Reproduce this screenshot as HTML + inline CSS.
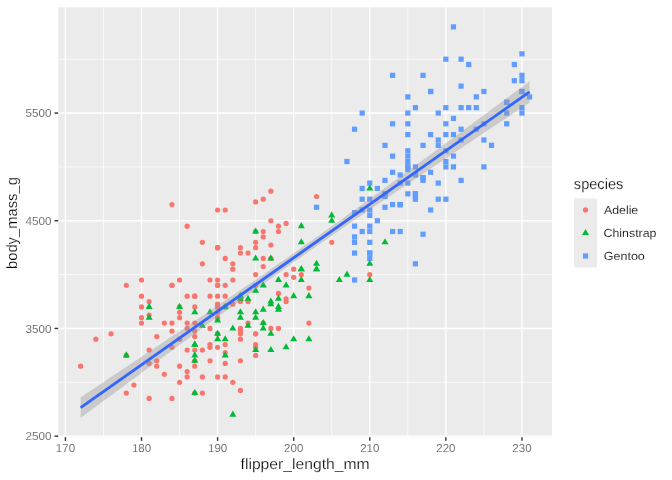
<!DOCTYPE html>
<html><head><meta charset="utf-8"><title>plot</title>
<style>html,body{margin:0;padding:0;background:#fff}svg{display:block}text{text-rendering:geometricPrecision;stroke:#fff;stroke-width:0.22px;font-family:"Liberation Sans","DejaVu Sans",sans-serif}.s{stroke-width:0.14px}</style>
</head><body>
<svg width="672" height="480" viewBox="0 0 672 480">
<rect width="672" height="480" fill="#fff"/>
<rect x="58.2" y="7.33" width="493.8" height="429.87" fill="#EBEBEB"/>
<g stroke="#fff" stroke-width="0.71" fill="none">
<path d="M103.47 7.33V437.2"/>
<path d="M179.56 7.33V437.2"/>
<path d="M255.64 7.33V437.2"/>
<path d="M331.73 7.33V437.2"/>
<path d="M407.82 7.33V437.2"/>
<path d="M483.9 7.33V437.2"/>
<path d="M58.2 382.31H552"/>
<path d="M58.2 274.6H552"/>
<path d="M58.2 166.9H552"/>
<path d="M58.2 59.19H552"/>
</g>
<g stroke="#fff" stroke-width="1.42" fill="none">
<path d="M65.43 7.33V437.2"/>
<path d="M141.51 7.33V437.2"/>
<path d="M217.6 7.33V437.2"/>
<path d="M293.69 7.33V437.2"/>
<path d="M369.77 7.33V437.2"/>
<path d="M445.86 7.33V437.2"/>
<path d="M521.95 7.33V437.2"/>
<path d="M58.2 436.16H552"/>
<path d="M58.2 328.45H552"/>
<path d="M58.2 220.75H552"/>
<path d="M58.2 113.05H552"/>
</g>
<g fill="#F8766D">
<circle cx="149.12" cy="301.53" r="2.6"/>
<circle cx="187.17" cy="296.14" r="2.6"/>
<circle cx="255.64" cy="355.38" r="2.6"/>
<circle cx="240.43" cy="333.84" r="2.6"/>
<circle cx="217.6" cy="312.3" r="2.6"/>
<circle cx="149.12" cy="314.99" r="2.6"/>
<circle cx="255.64" cy="201.9" r="2.6"/>
<circle cx="240.43" cy="331.15" r="2.6"/>
<circle cx="217.6" cy="247.68" r="2.6"/>
<circle cx="187.17" cy="349.99" r="2.6"/>
<circle cx="141.51" cy="306.91" r="2.6"/>
<circle cx="156.73" cy="360.77" r="2.6"/>
<circle cx="225.21" cy="296.14" r="2.6"/>
<circle cx="278.47" cy="231.52" r="2.6"/>
<circle cx="179.56" cy="306.91" r="2.6"/>
<circle cx="255.64" cy="333.84" r="2.6"/>
<circle cx="270.86" cy="220.75" r="2.6"/>
<circle cx="171.95" cy="347.3" r="2.6"/>
<circle cx="248.04" cy="253.06" r="2.6"/>
<circle cx="95.86" cy="339.22" r="2.6"/>
<circle cx="141.51" cy="317.68" r="2.6"/>
<circle cx="209.99" cy="296.14" r="2.6"/>
<circle cx="179.56" cy="279.99" r="2.6"/>
<circle cx="141.51" cy="296.14" r="2.6"/>
<circle cx="194.77" cy="296.14" r="2.6"/>
<circle cx="164.34" cy="323.07" r="2.6"/>
<circle cx="194.77" cy="360.77" r="2.6"/>
<circle cx="80.65" cy="366.15" r="2.6"/>
<circle cx="141.51" cy="279.99" r="2.6"/>
<circle cx="126.3" cy="355.38" r="2.6"/>
<circle cx="126.3" cy="285.37" r="2.6"/>
<circle cx="202.38" cy="349.99" r="2.6"/>
<circle cx="171.95" cy="285.37" r="2.6"/>
<circle cx="255.64" cy="347.3" r="2.6"/>
<circle cx="263.25" cy="258.45" r="2.6"/>
<circle cx="217.6" cy="279.99" r="2.6"/>
<circle cx="141.51" cy="323.07" r="2.6"/>
<circle cx="149.12" cy="349.99" r="2.6"/>
<circle cx="171.95" cy="204.59" r="2.6"/>
<circle cx="156.73" cy="366.15" r="2.6"/>
<circle cx="255.64" cy="285.37" r="2.6"/>
<circle cx="187.17" cy="371.54" r="2.6"/>
<circle cx="263.25" cy="231.52" r="2.6"/>
<circle cx="179.56" cy="382.31" r="2.6"/>
<circle cx="217.6" cy="209.98" r="2.6"/>
<circle cx="156.73" cy="336.53" r="2.6"/>
<circle cx="133.91" cy="385" r="2.6"/>
<circle cx="217.6" cy="333.84" r="2.6"/>
<circle cx="225.21" cy="258.45" r="2.6"/>
<circle cx="187.17" cy="328.45" r="2.6"/>
<circle cx="202.38" cy="242.29" r="2.6"/>
<circle cx="217.6" cy="333.84" r="2.6"/>
<circle cx="293.69" cy="269.22" r="2.6"/>
<circle cx="194.77" cy="393.08" r="2.6"/>
<circle cx="225.21" cy="306.91" r="2.6"/>
<circle cx="187.17" cy="323.07" r="2.6"/>
<circle cx="240.43" cy="296.14" r="2.6"/>
<circle cx="149.12" cy="398.46" r="2.6"/>
<circle cx="248.04" cy="301.53" r="2.6"/>
<circle cx="179.56" cy="366.15" r="2.6"/>
<circle cx="255.64" cy="231.52" r="2.6"/>
<circle cx="179.56" cy="317.68" r="2.6"/>
<circle cx="232.82" cy="269.22" r="2.6"/>
<circle cx="171.95" cy="398.46" r="2.6"/>
<circle cx="232.82" cy="279.99" r="2.6"/>
<circle cx="255.64" cy="344.61" r="2.6"/>
<circle cx="202.38" cy="263.83" r="2.6"/>
<circle cx="217.6" cy="376.92" r="2.6"/>
<circle cx="278.47" cy="226.14" r="2.6"/>
<circle cx="217.6" cy="317.68" r="2.6"/>
<circle cx="217.6" cy="285.37" r="2.6"/>
<circle cx="263.25" cy="323.07" r="2.6"/>
<circle cx="270.86" cy="258.45" r="2.6"/>
<circle cx="217.6" cy="306.91" r="2.6"/>
<circle cx="255.64" cy="247.68" r="2.6"/>
<circle cx="225.21" cy="306.91" r="2.6"/>
<circle cx="171.95" cy="285.37" r="2.6"/>
<circle cx="194.77" cy="323.07" r="2.6"/>
<circle cx="255.64" cy="274.6" r="2.6"/>
<circle cx="209.99" cy="360.77" r="2.6"/>
<circle cx="263.25" cy="199.21" r="2.6"/>
<circle cx="194.77" cy="296.14" r="2.6"/>
<circle cx="240.43" cy="253.06" r="2.6"/>
<circle cx="225.21" cy="344.61" r="2.6"/>
<circle cx="248.04" cy="323.07" r="2.6"/>
<circle cx="217.6" cy="296.14" r="2.6"/>
<circle cx="209.99" cy="328.45" r="2.6"/>
<circle cx="209.99" cy="279.99" r="2.6"/>
<circle cx="217.6" cy="317.68" r="2.6"/>
<circle cx="308.9" cy="323.07" r="2.6"/>
<circle cx="331.73" cy="242.29" r="2.6"/>
<circle cx="179.56" cy="339.22" r="2.6"/>
<circle cx="187.17" cy="226.14" r="2.6"/>
<circle cx="194.77" cy="349.99" r="2.6"/>
<circle cx="354.56" cy="242.29" r="2.6"/>
<circle cx="217.6" cy="306.91" r="2.6"/>
<circle cx="263.25" cy="236.91" r="2.6"/>
<circle cx="126.3" cy="393.08" r="2.6"/>
<circle cx="232.82" cy="263.83" r="2.6"/>
<circle cx="232.82" cy="304.22" r="2.6"/>
<circle cx="316.51" cy="196.52" r="2.6"/>
<circle cx="164.34" cy="374.23" r="2.6"/>
<circle cx="217.6" cy="247.68" r="2.6"/>
<circle cx="240.43" cy="390.38" r="2.6"/>
<circle cx="171.95" cy="323.07" r="2.6"/>
<circle cx="286.08" cy="301.53" r="2.6"/>
<circle cx="217.6" cy="285.37" r="2.6"/>
<circle cx="149.12" cy="363.46" r="2.6"/>
<circle cx="270.86" cy="191.13" r="2.6"/>
<circle cx="278.47" cy="293.45" r="2.6"/>
<circle cx="225.21" cy="209.98" r="2.6"/>
<circle cx="240.43" cy="360.77" r="2.6"/>
<circle cx="270.86" cy="244.98" r="2.6"/>
<circle cx="225.21" cy="285.37" r="2.6"/>
<circle cx="263.25" cy="266.52" r="2.6"/>
<circle cx="202.38" cy="393.08" r="2.6"/>
<circle cx="286.08" cy="298.84" r="2.6"/>
<circle cx="209.99" cy="344.61" r="2.6"/>
<circle cx="209.99" cy="347.3" r="2.6"/>
<circle cx="194.77" cy="366.15" r="2.6"/>
<circle cx="278.47" cy="328.45" r="2.6"/>
<circle cx="111.08" cy="333.84" r="2.6"/>
<circle cx="308.9" cy="288.06" r="2.6"/>
<circle cx="187.17" cy="376.92" r="2.6"/>
<circle cx="286.08" cy="274.6" r="2.6"/>
<circle cx="225.21" cy="352.69" r="2.6"/>
<circle cx="255.64" cy="242.29" r="2.6"/>
<circle cx="225.21" cy="376.92" r="2.6"/>
<circle cx="369.77" cy="274.6" r="2.6"/>
<circle cx="217.6" cy="347.3" r="2.6"/>
<circle cx="270.86" cy="328.45" r="2.6"/>
<circle cx="240.43" cy="328.45" r="2.6"/>
<circle cx="286.08" cy="223.44" r="2.6"/>
<circle cx="194.77" cy="336.53" r="2.6"/>
<circle cx="217.6" cy="285.37" r="2.6"/>
<circle cx="225.21" cy="363.46" r="2.6"/>
<circle cx="293.69" cy="277.29" r="2.6"/>
<circle cx="179.56" cy="339.22" r="2.6"/>
<circle cx="240.43" cy="247.68" r="2.6"/>
<circle cx="240.43" cy="339.22" r="2.6"/>
<circle cx="194.77" cy="331.15" r="2.6"/>
<circle cx="202.38" cy="376.92" r="2.6"/>
<circle cx="217.6" cy="304.22" r="2.6"/>
<circle cx="232.82" cy="382.31" r="2.6"/>
<circle cx="179.56" cy="312.3" r="2.6"/>
<circle cx="217.6" cy="247.68" r="2.6"/>
<circle cx="171.95" cy="331.15" r="2.6"/>
<circle cx="255.64" cy="333.84" r="2.6"/>
<circle cx="240.43" cy="301.53" r="2.6"/>
<circle cx="194.77" cy="306.91" r="2.6"/>
<circle cx="301.3" cy="274.6" r="2.6"/>
</g><g fill="#619CFF">
<rect x="374.78" y="218.15" width="5.21" height="5.21"/>
<rect x="519.34" y="88.9" width="5.21" height="5.21"/>
<rect x="367.17" y="223.53" width="5.21" height="5.21"/>
<rect x="428.04" y="88.9" width="5.21" height="5.21"/>
<rect x="405.21" y="121.21" width="5.21" height="5.21"/>
<rect x="367.17" y="212.76" width="5.21" height="5.21"/>
<rect x="374.78" y="185.83" width="5.21" height="5.21"/>
<rect x="435.65" y="142.75" width="5.21" height="5.21"/>
<rect x="359.56" y="228.92" width="5.21" height="5.21"/>
<rect x="405.21" y="148.14" width="5.21" height="5.21"/>
<rect x="397.6" y="201.99" width="5.21" height="5.21"/>
<rect x="412.82" y="105.06" width="5.21" height="5.21"/>
<rect x="397.6" y="201.99" width="5.21" height="5.21"/>
<rect x="389.99" y="72.74" width="5.21" height="5.21"/>
<rect x="367.17" y="250.46" width="5.21" height="5.21"/>
<rect x="420.43" y="72.74" width="5.21" height="5.21"/>
<rect x="367.17" y="255.84" width="5.21" height="5.21"/>
<rect x="450.86" y="24.28" width="5.21" height="5.21"/>
<rect x="359.56" y="185.83" width="5.21" height="5.21"/>
<rect x="458.47" y="126.6" width="5.21" height="5.21"/>
<rect x="428.04" y="88.9" width="5.21" height="5.21"/>
<rect x="405.21" y="164.29" width="5.21" height="5.21"/>
<rect x="389.99" y="228.92" width="5.21" height="5.21"/>
<rect x="405.21" y="158.91" width="5.21" height="5.21"/>
<rect x="405.21" y="164.29" width="5.21" height="5.21"/>
<rect x="405.21" y="153.52" width="5.21" height="5.21"/>
<rect x="412.82" y="261.23" width="5.21" height="5.21"/>
<rect x="405.21" y="94.29" width="5.21" height="5.21"/>
<rect x="367.17" y="207.37" width="5.21" height="5.21"/>
<rect x="443.25" y="105.06" width="5.21" height="5.21"/>
<rect x="458.47" y="137.37" width="5.21" height="5.21"/>
<rect x="359.56" y="196.6" width="5.21" height="5.21"/>
<rect x="344.34" y="158.91" width="5.21" height="5.21"/>
<rect x="519.34" y="51.2" width="5.21" height="5.21"/>
<rect x="443.25" y="148.14" width="5.21" height="5.21"/>
<rect x="443.25" y="121.21" width="5.21" height="5.21"/>
<rect x="389.99" y="169.68" width="5.21" height="5.21"/>
<rect x="435.65" y="137.37" width="5.21" height="5.21"/>
<rect x="351.95" y="234.3" width="5.21" height="5.21"/>
<rect x="351.95" y="126.6" width="5.21" height="5.21"/>
<rect x="351.95" y="277.38" width="5.21" height="5.21"/>
<rect x="481.3" y="88.9" width="5.21" height="5.21"/>
<rect x="367.17" y="239.69" width="5.21" height="5.21"/>
<rect x="412.82" y="191.22" width="5.21" height="5.21"/>
<rect x="458.47" y="105.06" width="5.21" height="5.21"/>
<rect x="420.43" y="175.06" width="5.21" height="5.21"/>
<rect x="367.17" y="250.46" width="5.21" height="5.21"/>
<rect x="481.3" y="121.21" width="5.21" height="5.21"/>
<rect x="389.99" y="153.52" width="5.21" height="5.21"/>
<rect x="405.21" y="131.98" width="5.21" height="5.21"/>
<rect x="367.17" y="180.45" width="5.21" height="5.21"/>
<rect x="443.25" y="131.98" width="5.21" height="5.21"/>
<rect x="367.17" y="228.92" width="5.21" height="5.21"/>
<rect x="481.3" y="164.29" width="5.21" height="5.21"/>
<rect x="420.43" y="175.06" width="5.21" height="5.21"/>
<rect x="443.25" y="158.91" width="5.21" height="5.21"/>
<rect x="351.95" y="239.69" width="5.21" height="5.21"/>
<rect x="443.25" y="164.29" width="5.21" height="5.21"/>
<rect x="351.95" y="223.53" width="5.21" height="5.21"/>
<rect x="473.69" y="105.06" width="5.21" height="5.21"/>
<rect x="351.95" y="250.46" width="5.21" height="5.21"/>
<rect x="450.86" y="131.98" width="5.21" height="5.21"/>
<rect x="397.6" y="228.92" width="5.21" height="5.21"/>
<rect x="526.95" y="94.29" width="5.21" height="5.21"/>
<rect x="435.65" y="196.6" width="5.21" height="5.21"/>
<rect x="519.34" y="88.9" width="5.21" height="5.21"/>
<rect x="397.6" y="201.99" width="5.21" height="5.21"/>
<rect x="511.73" y="78.13" width="5.21" height="5.21"/>
<rect x="443.25" y="196.6" width="5.21" height="5.21"/>
<rect x="466.08" y="105.06" width="5.21" height="5.21"/>
<rect x="412.82" y="191.22" width="5.21" height="5.21"/>
<rect x="450.86" y="164.29" width="5.21" height="5.21"/>
<rect x="450.86" y="153.52" width="5.21" height="5.21"/>
<rect x="420.43" y="142.75" width="5.21" height="5.21"/>
<rect x="412.82" y="196.6" width="5.21" height="5.21"/>
<rect x="519.34" y="78.13" width="5.21" height="5.21"/>
<rect x="359.56" y="207.37" width="5.21" height="5.21"/>
<rect x="443.25" y="56.59" width="5.21" height="5.21"/>
<rect x="405.21" y="191.22" width="5.21" height="5.21"/>
<rect x="466.08" y="61.97" width="5.21" height="5.21"/>
<rect x="382.39" y="204.68" width="5.21" height="5.21"/>
<rect x="450.86" y="115.83" width="5.21" height="5.21"/>
<rect x="382.39" y="193.91" width="5.21" height="5.21"/>
<rect x="473.69" y="126.6" width="5.21" height="5.21"/>
<rect x="382.39" y="191.22" width="5.21" height="5.21"/>
<rect x="504.12" y="99.67" width="5.21" height="5.21"/>
<rect x="428.04" y="207.37" width="5.21" height="5.21"/>
<rect x="428.04" y="131.98" width="5.21" height="5.21"/>
<rect x="382.39" y="177.76" width="5.21" height="5.21"/>
<rect x="519.34" y="105.06" width="5.21" height="5.21"/>
<rect x="428.04" y="169.68" width="5.21" height="5.21"/>
<rect x="504.12" y="121.21" width="5.21" height="5.21"/>
<rect x="382.39" y="191.22" width="5.21" height="5.21"/>
<rect x="473.69" y="94.29" width="5.21" height="5.21"/>
<rect x="397.6" y="180.45" width="5.21" height="5.21"/>
<rect x="488.91" y="142.75" width="5.21" height="5.21"/>
<rect x="412.82" y="172.37" width="5.21" height="5.21"/>
<rect x="458.47" y="177.76" width="5.21" height="5.21"/>
<rect x="313.91" y="204.68" width="5.21" height="5.21"/>
<rect x="481.3" y="137.37" width="5.21" height="5.21"/>
<rect x="435.65" y="180.45" width="5.21" height="5.21"/>
<rect x="504.12" y="99.67" width="5.21" height="5.21"/>
<rect x="405.21" y="166.99" width="5.21" height="5.21"/>
<rect x="504.12" y="110.44" width="5.21" height="5.21"/>
<rect x="412.82" y="193.91" width="5.21" height="5.21"/>
<rect x="405.21" y="110.44" width="5.21" height="5.21"/>
<rect x="367.17" y="196.6" width="5.21" height="5.21"/>
<rect x="435.65" y="110.44" width="5.21" height="5.21"/>
<rect x="351.95" y="210.07" width="5.21" height="5.21"/>
<rect x="359.56" y="110.44" width="5.21" height="5.21"/>
<rect x="412.82" y="164.29" width="5.21" height="5.21"/>
<rect x="511.73" y="61.97" width="5.21" height="5.21"/>
<rect x="389.99" y="201.99" width="5.21" height="5.21"/>
<rect x="519.34" y="110.44" width="5.21" height="5.21"/>
<rect x="420.43" y="231.61" width="5.21" height="5.21"/>
<rect x="519.34" y="72.74" width="5.21" height="5.21"/>
<rect x="420.43" y="177.76" width="5.21" height="5.21"/>
<rect x="458.47" y="56.59" width="5.21" height="5.21"/>
<rect x="397.6" y="172.37" width="5.21" height="5.21"/>
<rect x="405.21" y="180.45" width="5.21" height="5.21"/>
<rect x="458.47" y="83.52" width="5.21" height="5.21"/>
<rect x="382.39" y="142.75" width="5.21" height="5.21"/>
<rect x="389.99" y="121.21" width="5.21" height="5.21"/>
</g><g fill="#00BA38">
<path d="M232.82 324.4L236.33 330.48H229.31Z"/>
<path d="M263.25 281.32L266.76 287.4H259.74Z"/>
<path d="M240.43 308.25L243.94 314.32H236.92Z"/>
<path d="M202.38 321.71L205.89 327.79H198.88Z"/>
<path d="M270.86 300.17L274.37 306.25H267.35Z"/>
<path d="M278.47 275.94L281.98 282.01H274.96Z"/>
<path d="M126.3 351.33L129.81 357.41H122.79Z"/>
<path d="M270.86 297.48L274.37 303.55H267.35Z"/>
<path d="M255.64 254.4L259.15 260.47H252.14Z"/>
<path d="M278.47 302.86L281.98 308.94H274.96Z"/>
<path d="M240.43 292.09L243.94 298.17H236.92Z"/>
<path d="M248.04 294.78L251.54 300.86H244.53Z"/>
<path d="M179.56 302.86L183.07 308.94H176.05Z"/>
<path d="M301.3 265.17L304.8 271.24H297.79Z"/>
<path d="M217.6 316.33L221.11 322.4H214.09Z"/>
<path d="M301.3 265.17L304.8 271.24H297.79Z"/>
<path d="M270.86 345.94L274.37 352.02H267.35Z"/>
<path d="M149.12 302.86L152.63 308.94H145.61Z"/>
<path d="M217.6 329.79L221.11 335.86H214.09Z"/>
<path d="M255.64 227.47L259.15 233.55H252.14Z"/>
<path d="M149.12 313.63L152.63 319.71H145.61Z"/>
<path d="M225.21 335.17L228.72 341.25H221.7Z"/>
<path d="M194.77 389.03L198.28 395.1H191.27Z"/>
<path d="M240.43 292.09L243.94 298.17H236.92Z"/>
<path d="M255.64 345.94L259.15 352.02H252.14Z"/>
<path d="M270.86 254.4L274.37 260.47H267.35Z"/>
<path d="M293.69 335.17L297.2 341.25H290.18Z"/>
<path d="M293.69 292.09L297.2 298.17H290.18Z"/>
<path d="M225.21 302.86L228.72 308.94H221.7Z"/>
<path d="M331.73 211.31L335.24 217.39H328.22Z"/>
<path d="M194.77 356.71L198.28 362.79H191.27Z"/>
<path d="M301.3 238.24L304.8 244.32H297.79Z"/>
<path d="M194.77 340.56L198.28 346.63H191.27Z"/>
<path d="M316.51 259.78L320.02 265.86H313Z"/>
<path d="M255.64 313.63L259.15 319.71H252.14Z"/>
<path d="M286.08 281.32L289.59 287.4H282.57Z"/>
<path d="M255.64 286.71L259.15 292.78H252.14Z"/>
<path d="M369.77 184.39L373.28 190.46H366.26Z"/>
<path d="M232.82 410.57L236.33 416.64H229.31Z"/>
<path d="M331.73 216.7L335.24 222.78H328.22Z"/>
<path d="M369.77 275.94L373.28 282.01H366.26Z"/>
<path d="M194.77 308.25L198.28 314.32H191.27Z"/>
<path d="M263.25 319.02L266.76 325.09H259.74Z"/>
<path d="M263.25 324.4L266.76 330.48H259.74Z"/>
<path d="M263.25 305.55L266.76 311.63H259.74Z"/>
<path d="M301.3 222.08L304.8 228.16H297.79Z"/>
<path d="M217.6 335.17L221.11 341.25H214.09Z"/>
<path d="M384.99 238.24L388.5 244.32H381.48Z"/>
<path d="M194.77 351.33L198.28 357.41H191.27Z"/>
<path d="M278.47 305.55L281.98 311.63H274.96Z"/>
<path d="M286.08 343.25L289.59 349.33H282.57Z"/>
<path d="M301.3 275.94L304.8 282.01H297.79Z"/>
<path d="M240.43 313.63L243.94 319.71H236.92Z"/>
<path d="M316.51 265.17L320.02 271.24H313Z"/>
<path d="M194.77 340.56L198.28 346.63H191.27Z"/>
<path d="M270.86 329.79L274.37 335.86H267.35Z"/>
<path d="M225.21 351.33L228.72 357.41H221.7Z"/>
<path d="M316.51 265.17L320.02 271.24H313Z"/>
<path d="M308.9 292.09L312.41 298.17H305.4Z"/>
<path d="M248.04 321.71L251.54 327.79H244.53Z"/>
<path d="M339.34 275.94L342.85 282.01H335.83Z"/>
<path d="M209.99 308.25L213.5 314.32H206.48Z"/>
<path d="M255.64 308.25L259.15 314.32H252.14Z"/>
<path d="M346.95 270.55L350.46 276.63H343.44Z"/>
<path d="M308.9 335.17L312.41 341.25H305.4Z"/>
<path d="M240.43 294.78L243.94 300.86H236.92Z"/>
<path d="M369.77 259.78L373.28 265.86H366.26Z"/>
<path d="M278.47 294.78L281.98 300.86H274.96Z"/>
</g>
<path d="M80.65 397.27L86.33 393.49L92.01 389.7L97.69 385.92L103.38 382.14L109.06 378.35L114.74 374.56L120.42 370.77L126.1 366.98L131.79 363.19L137.47 359.4L143.15 355.6L148.83 351.8L154.52 348L160.2 344.19L165.88 340.39L171.56 336.58L177.25 332.76L182.93 328.95L188.61 325.13L194.29 321.3L199.98 317.47L205.66 313.64L211.34 309.8L217.02 305.95L222.71 302.1L228.39 298.24L234.07 294.38L239.75 290.5L245.43 286.62L251.12 282.73L256.8 278.83L262.48 274.92L268.16 271L273.85 267.07L279.53 263.12L285.21 259.17L290.89 255.2L296.58 251.22L302.26 247.22L307.94 243.22L313.62 239.2L319.31 235.17L324.99 231.12L330.67 227.07L336.35 223L342.04 218.92L347.72 214.83L353.4 210.73L359.08 206.63L364.77 202.51L370.45 198.39L376.13 194.26L381.81 190.12L387.49 185.97L393.18 181.82L398.86 177.66L404.54 173.5L410.22 169.34L415.91 165.17L421.59 160.99L427.27 156.81L432.95 152.63L438.64 148.45L444.32 144.26L450 140.07L455.68 135.87L461.37 131.68L467.05 127.48L472.73 123.28L478.41 119.08L484.1 114.88L489.78 110.67L495.46 106.46L501.14 102.26L506.82 98.05L512.51 93.84L518.19 89.63L523.87 85.41L529.55 81.2L529.55 102.56L523.87 106.34L518.19 110.12L512.51 113.9L506.82 117.68L501.14 121.47L495.46 125.25L489.78 129.04L484.1 132.83L478.41 136.62L472.73 140.41L467.05 144.2L461.37 148L455.68 151.79L450 155.59L444.32 159.4L438.64 163.2L432.95 167.01L427.27 170.82L421.59 174.64L415.91 178.45L410.22 182.28L404.54 186.1L398.86 189.93L393.18 193.77L387.49 197.61L381.81 201.46L376.13 205.32L370.45 209.18L364.77 213.05L359.08 216.92L353.4 220.81L347.72 224.7L342.04 228.61L336.35 232.52L330.67 236.45L324.99 240.39L319.31 244.34L313.62 248.3L307.94 252.27L302.26 256.26L296.58 260.26L290.89 264.27L285.21 268.29L279.53 272.33L273.85 276.38L268.16 280.44L262.48 284.51L256.8 288.6L251.12 292.69L245.43 296.79L239.75 300.9L234.07 305.02L228.39 309.15L222.71 313.28L217.02 317.43L211.34 321.57L205.66 325.73L199.98 329.89L194.29 334.05L188.61 338.22L182.93 342.39L177.25 346.57L171.56 350.75L165.88 354.93L160.2 359.12L154.52 363.3L148.83 367.5L143.15 371.69L137.47 375.89L131.79 380.09L126.1 384.29L120.42 388.49L114.74 392.69L109.06 396.9L103.38 401.11L97.69 405.31L92.01 409.52L86.33 413.73L80.65 417.95Z" fill="#999" fill-opacity="0.4"/>
<path d="M80.65 407.61L529.55 91.88" stroke="#3366FF" stroke-width="2.85" fill="none"/>
<g stroke="#333" stroke-width="1.42" fill="none">
<path d="M65.43 437.2v3.67"/>
<path d="M141.51 437.2v3.67"/>
<path d="M217.6 437.2v3.67"/>
<path d="M293.69 437.2v3.67"/>
<path d="M369.77 437.2v3.67"/>
<path d="M445.86 437.2v3.67"/>
<path d="M521.95 437.2v3.67"/>
<path d="M54.53 436.16H58.2"/>
<path d="M54.53 328.45H58.2"/>
<path d="M54.53 220.75H58.2"/>
<path d="M54.53 113.05H58.2"/>
</g>
<text transform="translate(65.43 451.9) scale(1.0000 1)" font-size="11.5" text-anchor="middle" fill="#555" class="s">170</text>
<text transform="translate(141.51 451.9) scale(1.0000 1)" font-size="11.5" text-anchor="middle" fill="#555" class="s">180</text>
<text transform="translate(217.6 451.9) scale(1.0000 1)" font-size="11.5" text-anchor="middle" fill="#555" class="s">190</text>
<text transform="translate(293.69 451.9) scale(1.0000 1)" font-size="11.5" text-anchor="middle" fill="#555" class="s">200</text>
<text transform="translate(369.77 451.9) scale(1.0000 1)" font-size="11.5" text-anchor="middle" fill="#555" class="s">210</text>
<text transform="translate(445.86 451.9) scale(1.0000 1)" font-size="11.5" text-anchor="middle" fill="#555" class="s">220</text>
<text transform="translate(521.95 451.9) scale(1.0000 1)" font-size="11.5" text-anchor="middle" fill="#555" class="s">230</text>
<text transform="translate(51.5 440.26) scale(1.0100 1)" font-size="11.6" text-anchor="end" fill="#555" class="s">2500</text>
<text transform="translate(51.5 332.55) scale(1.0100 1)" font-size="11.6" text-anchor="end" fill="#555" class="s">3500</text>
<text transform="translate(51.5 224.85) scale(1.0100 1)" font-size="11.6" text-anchor="end" fill="#555" class="s">4500</text>
<text transform="translate(51.5 117.15) scale(1.0100 1)" font-size="11.6" text-anchor="end" fill="#555" class="s">5500</text>
<text transform="translate(305.07 468.6) scale(1.0391 1)" font-size="15.1" text-anchor="middle">flipper_length_mm</text>
<text transform="translate(17 223.06) rotate(-90) scale(0.9779 1)" font-size="15.1" text-anchor="middle">body_mass_g</text>
<text transform="translate(573.85 189) scale(0.9666 1)" font-size="15.1" text-anchor="start">species</text>
<rect x="574" y="198.4" width="23.04" height="69.12" fill="#EBEBEB"/>
<circle cx="585.52" cy="209.92" r="2.6" fill="#F8766D"/>
<g fill="#00BA38"><path d="M585.52 228.91L589.03 234.99H582.01Z"/></g>
<rect x="582.91" y="253.4" width="5.21" height="5.21" fill="#619CFF"/>
<text transform="translate(603.96 214) scale(1.0520 1)" font-size="11.73" text-anchor="start" class="s">Adelie</text>
<text transform="translate(603.57 236.9) scale(1.0534 1)" font-size="11.73" text-anchor="start" class="s">Chinstrap</text>
<text transform="translate(603.72 259.9) scale(1.0693 1)" font-size="11.73" text-anchor="start" class="s">Gentoo</text>
</svg>
</body></html>
